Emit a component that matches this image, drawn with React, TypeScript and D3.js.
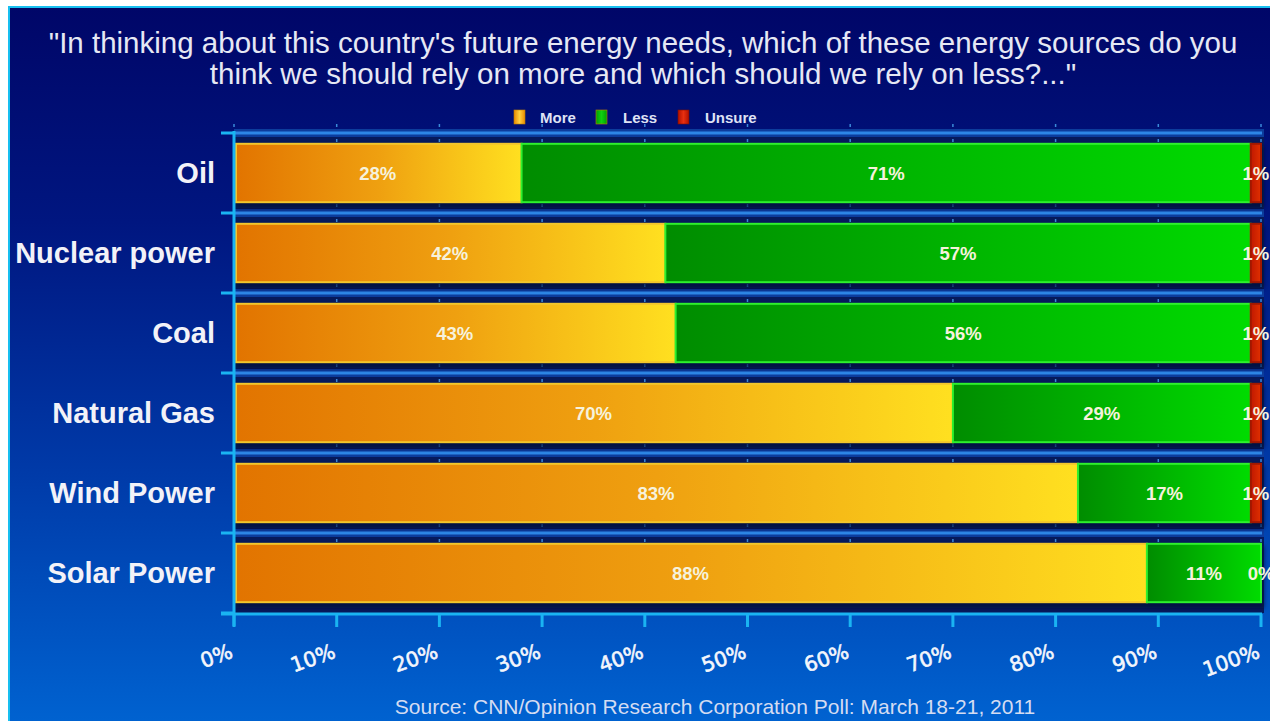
import React from "react";
import * as d3 from "d3";

const titleLines = [
  "\"In thinking about this country's future energy needs, which of these energy sources do you",
  "think we should rely on more and which should we rely on less?...\"",
];
const sourceText = "Source: CNN/Opinion Research Corporation Poll: March 18-21, 2011";
const categories = ["Oil", "Nuclear power", "Coal", "Natural Gas", "Wind Power", "Solar Power"];
const seriesKeys = ["More", "Less", "Unsure"];
const moreValues = [28, 42, 43, 70, 83, 88];
const lessValues = [71, 57, 56, 29, 17, 11];
const unsureValues = [1, 1, 1, 1, 1, 0];
const xTickValues = [0, 10, 20, 30, 40, 50, 60, 70, 80, 90, 100];

const W = 1270;
const H = 721;

export default function App() {
  const rows = categories.map((c, i) => ({
    category: c,
    More: moreValues[i],
    Less: lessValues[i],
    Unsure: unsureValues[i],
  }));
  const stack = d3.stack<any>().keys(seriesKeys).offset(d3.stackOffsetExpand);
  const series = stack(rows);

  const x = d3.scaleLinear().domain([0, 1]).range([234, 1261]);
  const xPct = d3.scaleLinear().domain([0, 100]).range([234, 1261]);
  const y = d3.scaleBand<string>().domain(categories).range([133, 613]).paddingInner(0.27).paddingOuter(0.135);
  const step = y.step();
  const boundaries = d3.range(categories.length + 1).map((i) => 133 + i * step);

  const fills: Record<string, string> = { More: "url(#gMore)", Less: "url(#gLess)", Unsure: "url(#gUnsure)" };
  const strokes: Record<string, string> = { More: "#f2c62c", Less: "#2ef02e", Unsure: "#a01800" };
  const swatch: Record<string, string> = { More: "url(#swMore)", Less: "url(#swLess)", Unsure: "url(#swUnsure)" };

  const legendItems = [
    { key: "More", sx: 514, tx: 540 },
    { key: "Less", sx: 596, tx: 623 },
    { key: "Unsure", sx: 678, tx: 705 },
  ];

  return (
    <svg width={W} height={H} style={{ position: "absolute", left: 0, top: 0, display: "block" }}>
      <defs>
        <linearGradient id="bg" x1="0" y1="0" x2="0" y2="1">
          <stop offset="0" stopColor="#000668" />
          <stop offset="0.3" stopColor="#001680" />
          <stop offset="0.65" stopColor="#003aa8" />
          <stop offset="1" stopColor="#0062d0" />
        </linearGradient>
        <linearGradient id="gMore" x1="0" y1="0" x2="1" y2="0">
          <stop offset="0" stopColor="#e27400" />
          <stop offset="0.5" stopColor="#efa010" />
          <stop offset="1" stopColor="#ffe020" />
        </linearGradient>
        <linearGradient id="gLess" x1="0" y1="0" x2="1" y2="0">
          <stop offset="0" stopColor="#008c00" />
          <stop offset="1" stopColor="#00dc00" />
        </linearGradient>
        <linearGradient id="gUnsure" x1="0" y1="0" x2="1" y2="0">
          <stop offset="0" stopColor="#c01800" />
          <stop offset="1" stopColor="#e03000" />
        </linearGradient>
        <linearGradient id="swMore" x1="0" y1="0" x2="1" y2="0">
          <stop offset="0" stopColor="#e88a00" />
          <stop offset="0.5" stopColor="#ffd040" />
          <stop offset="1" stopColor="#e88a00" />
        </linearGradient>
        <linearGradient id="swLess" x1="0" y1="0" x2="1" y2="0">
          <stop offset="0" stopColor="#00a000" />
          <stop offset="0.5" stopColor="#10d010" />
          <stop offset="1" stopColor="#00a000" />
        </linearGradient>
        <linearGradient id="swUnsure" x1="0" y1="0" x2="1" y2="0">
          <stop offset="0" stopColor="#b01000" />
          <stop offset="0.5" stopColor="#e83010" />
          <stop offset="1" stopColor="#b01000" />
        </linearGradient>
        <filter id="blur" x="-5%" y="-50%" width="110%" height="200%">
          <feGaussianBlur stdDeviation="2" />
        </filter>
      </defs>

      <rect x={0} y={0} width={W} height={H} fill="#ffffff" />
      <rect x={8} y={6} width={W - 8} height={H - 6} fill="#18bff0" />
      <rect x={10} y={8} width={W - 10} height={H - 8} fill="url(#bg)" />

      {titleLines.map((t, i) => (
        <text
          key={i}
          x={643}
          y={53 + i * 31}
          textAnchor="middle"
          fontFamily="'Liberation Sans', Arial, sans-serif"
          fontSize={29.5}
          fill="#e6e8f4"
        >
          {t}
        </text>
      ))}

      {legendItems.map((l) => (
        <g key={l.key}>
          <rect x={l.sx} y={110} width={11} height={14} fill={swatch[l.key]} stroke={l.key === "Unsure" ? "#801000" : "#c08000"} strokeWidth={0.6} />
          <text x={l.tx} y={123} fontFamily="'Liberation Sans', Arial, sans-serif" fontWeight="bold" fontSize={15} fill="#dfe2f4">
            {l.key}
          </text>
        </g>
      ))}

      {/* plot area dark fill */}
      <rect x={234} y={133} width={1264 - 234} height={480} fill="#061a5c" />

      {/* separators */}
      {boundaries.slice(0, -1).map((b, i) => (
        <g key={i}>
          <line x1={234} x2={1264} y1={b} y2={b} stroke="#0c3c9c" strokeWidth={8} />
          <line x1={234} x2={1262} y1={b} y2={b} stroke="#2d86e6" strokeWidth={3} />
          {xTickValues.map((t) => (
            <g key={t}>
              <line x1={xPct(t)} x2={xPct(t)} y1={b - 9} y2={b - 6} stroke="#3a8ad8" strokeWidth={1.5} />
              <line x1={xPct(t)} x2={xPct(t)} y1={b + 6} y2={b + 9} stroke="#3a8ad8" strokeWidth={1.5} />
            </g>
          ))}
        </g>
      ))}

      {/* bar shadows */}
      {categories.map((c) => (
        <rect key={c} x={236} y={(y(c) as number) + 2} width={1261 - 236 + 3} height={y.bandwidth() + 4} fill="#020c38" opacity={0.7} filter="url(#blur)" />
      ))}

      {/* bars */}
      {series.map((s) => (
        <g key={s.key}>
          {s.map((d, i) => {
            const x0 = x(d[0]);
            const x1 = x(d[1]);
            const w = x1 - x0;
            if (w <= 0.01) return null;
            const inset = s.key === "More" ? 2 : 0;
            return (
              <rect
                key={i}
                x={x0 + inset}
                y={y(categories[i]) as number}
                width={Math.max(0, w - inset)}
                height={y.bandwidth()}
                fill={fills[s.key]}
                stroke={strokes[s.key]}
                strokeWidth={2}
              />
            );
          })}
        </g>
      ))}

      {/* value labels */}
      {series.map((s) => (
        <g key={s.key}>
          {s.map((d, i) => {
            const raw = (rows[i] as any)[s.key] as number;
            const cx = (x(d[0]) + x(d[1])) / 2;
            const cy = (y(categories[i]) as number) + y.bandwidth() / 2;
            return (
              <text
                key={i}
                x={cx}
                y={cy + 6.5}
                textAnchor="middle"
                fontFamily="'Liberation Sans', Arial, sans-serif"
                fontWeight="bold"
                fontSize={18.5}
                fill="#f6f2dc"
              >
                {raw + "%"}
              </text>
            );
          })}
        </g>
      ))}

      {/* y axis */}
      <line x1={234} x2={234} y1={131} y2={626} stroke="#1ab4f2" strokeWidth={3} />
      {boundaries.map((b, i) => (
        <line key={i} x1={221} x2={234} y1={b} y2={b} stroke="#1ab4f2" strokeWidth={3} />
      ))}
      {/* x axis */}
      <line x1={221} x2={1262} y1={614} y2={614} stroke="#1ab4f2" strokeWidth={3} />
      {xTickValues.map((t) => (
        <line key={t} x1={xPct(t)} x2={xPct(t)} y1={614} y2={627} stroke="#1ab4f2" strokeWidth={3} />
      ))}

      {/* category labels */}
      {categories.map((c) => (
        <text
          key={c}
          x={215}
          y={(y(c) as number) + y.bandwidth() / 2 + 10}
          textAnchor="end"
          fontFamily="'Liberation Sans', Arial, sans-serif"
          fontWeight="bold"
          fontSize={29}
          fill="#f2f2f8"
        >
          {c}
        </text>
      ))}

      {/* x tick labels */}
      {xTickValues.map((t) => (
        <text
          key={t}
          transform={`translate(${xPct(t)},657) rotate(-20)`}
          textAnchor="end"
          fontFamily="'DejaVu Sans', Verdana, sans-serif"
          fontSize={20.5}
          fill="#f4f6fc"
          stroke="#f4f6fc"
          strokeWidth={0.6}
        >
          {t + "%"}
        </text>
      ))}

      <text
        x={715}
        y={714}
        textAnchor="middle"
        fontFamily="'Liberation Sans', Arial, sans-serif"
        fontSize={21}
        fill="#d4dcf2"
      >
        {sourceText}
      </text>
    </svg>
  );
}
